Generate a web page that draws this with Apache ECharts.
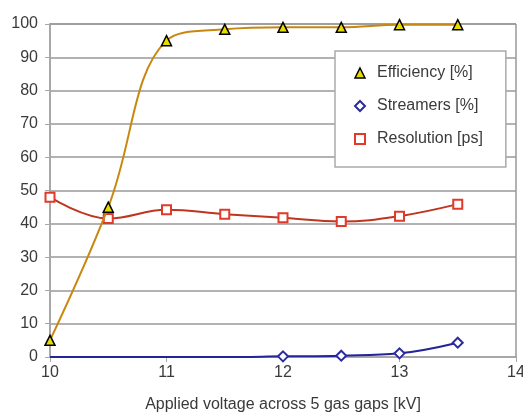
<!DOCTYPE html>
<html>
<head>
<meta charset="utf-8">
<script src="https://cdn.jsdelivr.net/npm/echarts@6/dist/echarts.min.js"></script>
<style>
  html, body { margin: 0; padding: 0; background: #fff; }
  #chart { width: 523px; height: 412px; }
</style>
</head>
<body>
<div id="chart"></div>
<script>
// Applied high voltage across the five gas gaps (kV)
const voltage = [10, 10.5, 11, 11.5, 12, 12.5, 13, 13.5];
// Detection efficiency (%)
const efficiency = [5, 45, 95, 98.4, 99, 99, 99.8, 99.8];
// Streamer fraction (%)
const streamers = [0, 0, 0, 0, 0.2, 0.4, 1.1, 4.3];
// Time resolution (ps)
const resolution = [48, 41.6, 44.2, 42.9, 41.8, 40.7, 42.3, 45.9];
// Streamer points only marked where streamers were measured
const streamerMarked = [false, false, false, false, true, true, true, true];

const xTicks = [10, 11, 12, 13, 14];
const yTicks = [0, 10, 20, 30, 40, 50, 60, 70, 80, 90, 100];

const font = 'Liberation Sans, Arial, sans-serif';
const textColor = '#3a3a3a';

function pairs(ys, flags) {
  return voltage.map((x, i) => {
    const item = { value: [x, ys[i]] };
    if (flags && !flags[i]) item.symbol = 'none';
    return item;
  });
}

const chart = echarts.init(document.getElementById('chart'), null, { renderer: 'canvas' });
chart.setOption({
  animation: false,
  backgroundColor: '#fff',
  grid: { left: 50, right: 7, top: 24, bottom: 55, containLabel: false, outerBoundsMode: 'none' },
  xAxis: {
    type: 'value',
    min: xTicks[0],
    max: xTicks[xTicks.length - 1],
    interval: 1,
    name: 'Applied voltage across 5 gas gaps [kV]',
    nameLocation: 'middle',
    nameGap: 40,
    nameTextStyle: { fontFamily: font, fontSize: 16, color: textColor },
    axisLine: { show: true, onZero: false, lineStyle: { color: '#a8a8a8', width: 2 } },
    axisTick: { show: true, length: 5, lineStyle: { color: '#a8a8a8', width: 1 } },
    axisLabel: { fontFamily: font, fontSize: 16, color: textColor, margin: 8 },
    splitLine: { show: false }
  },
  yAxis: {
    type: 'value',
    min: yTicks[0],
    max: yTicks[yTicks.length - 1],
    interval: 10,
    axisLine: { show: true, lineStyle: { color: '#a8a8a8', width: 2 } },
    axisTick: { show: true, length: 5, lineStyle: { color: '#a8a8a8', width: 1 } },
    axisLabel: { fontFamily: font, fontSize: 16, color: textColor, margin: 12 },
    splitLine: { show: true, lineStyle: { color: '#999', width: 1.5 } }
  },
  legend: {
    orient: 'vertical',
    left: 335,
    top: 51,
    padding: [14, 23, 20, 19],
    itemGap: 17,
    itemWidth: 10,
    itemHeight: 10,
    borderColor: '#aaa',
    borderWidth: 1.5,
    backgroundColor: '#fff',
    textStyle: { fontFamily: font, fontSize: 16, color: textColor, padding: [0, 0, 0, 7] },
    data: [
      { name: 'Efficiency [%]', icon: 'triangle', itemStyle: { color: '#e6dc00', borderColor: '#000', borderWidth: 1.5 } },
      { name: 'Streamers [%]', icon: 'diamond', itemStyle: { color: '#fff', borderColor: '#2b2ba0', borderWidth: 2 } },
      { name: 'Resolution [ps]', icon: 'rect', itemStyle: { color: '#fff', borderColor: '#e03a2a', borderWidth: 2 } }
    ]
  },
  graphic: [
    // top and right frame of the plot area
    { type: 'line', shape: { x1: 50, y1: 24, x2: 516, y2: 24 }, style: { stroke: '#999', lineWidth: 1.5 }, z: 1 },
    { type: 'line', shape: { x1: 516, y1: 24, x2: 516, y2: 357 }, style: { stroke: '#999', lineWidth: 1.5 }, z: 1 }
  ],
  series: [
    {
      name: 'Resolution [ps]',
      type: 'line',
      smooth: 0.4,
      data: pairs(resolution),
      symbol: 'rect',
      symbolSize: 9,
      lineStyle: { color: '#c0351f', width: 2 },
      itemStyle: { color: '#fff', borderColor: '#e03a2a', borderWidth: 2 },
      z: 3
    },
    {
      name: 'Streamers [%]',
      type: 'line',
      smooth: 0.4,
      data: pairs(streamers, streamerMarked),
      symbol: 'diamond',
      symbolSize: 10,
      lineStyle: { color: '#23239a', width: 2 },
      itemStyle: { color: '#fff', borderColor: '#2b2ba0', borderWidth: 2 },
      z: 4
    },
    {
      name: 'Efficiency [%]',
      type: 'line',
      smooth: 0.4,
      data: pairs(efficiency),
      symbol: 'triangle',
      symbolSize: 10,
      lineStyle: { color: '#c8870f', width: 2 },
      itemStyle: { color: '#e6dc00', borderColor: '#000', borderWidth: 1.5 },
      z: 5
    }
  ]
});
</script>
</body>
</html>
